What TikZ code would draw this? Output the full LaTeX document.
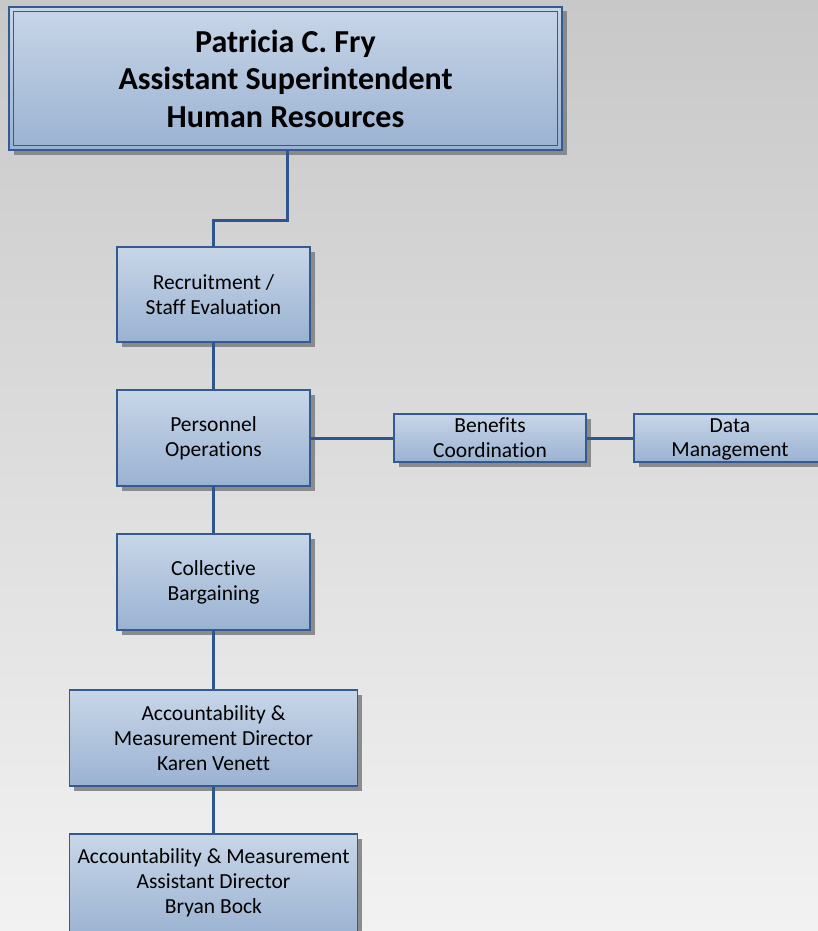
\documentclass[tikz,border=0pt]{standalone}
\usepackage{fontspec}
\setmainfont{Carlito}[Ligatures=NoCommon]
\usetikzlibrary{shadows}
\definecolor{bgtop}{RGB}{200,200,200}
\definecolor{bgbot}{RGB}{242,242,242}
\definecolor{boxtop}{RGB}{200,214,232}
\definecolor{boxbot}{RGB}{154,178,210}
\definecolor{boxline}{RGB}{52,90,146}
\definecolor{conn}{RGB}{46,86,142}
\definecolor{shad}{RGB}{130,130,130}
\tikzset{
  orgbox/.style={rectangle, draw=boxline, line width=1.2pt, top color=boxtop, bottom color=boxbot,
    align=center, inner sep=0pt, text=black, font=\fontsize{21.5}{24.8}\selectfont,
    drop shadow={shadow xshift=4.5pt, shadow yshift=-4.5pt, fill=shad, opacity=0.9}},
  titlebox/.style={orgbox, font=\bfseries\fontsize{32}{37.5}\selectfont},
  link/.style={draw=conn, line width=3pt}
}
\begin{document}
\begin{tikzpicture}[x=1pt,y=-1pt]
\useasboundingbox (0,0) rectangle (818,931);
\clip (0,0) rectangle (818,931);
\shade[top color=bgtop, bottom color=bgbot] (0,0) rectangle (818,931);

\node[titlebox, minimum width=553pt, minimum height=143pt] (top) at (285.5,78.5)
  {Patricia C. Fry\\Assistant Superintendent\\Human Resources};
\draw[draw=boxline, line width=1.2pt] ([shift={(5,5)}]top.north west) rectangle ([shift={(-5,-5)}]top.south east);

\node[orgbox, minimum width=193pt, minimum height=95pt] (rec) at (213.5,294.5) {Recruitment /\\Staff Evaluation};
\node[orgbox, minimum width=193pt, minimum height=96pt] (per) at (213.5,438) {Personnel\\Operations};
\node[orgbox, minimum width=193pt, minimum height=96pt] (col) at (213.5,582) {Collective\\Bargaining};
\node[orgbox, minimum width=288pt, minimum height=96pt] (acc) at (213.5,738) {Accountability \&\\Measurement Director\\Karen Venett};
\node[orgbox, minimum width=288pt, minimum height=104pt] (ast) at (213.5,886) {};
\node[align=center, font=\fontsize{21.5}{24.8}\selectfont] (astt) at (213.5,883) {Accountability \& Measurement\\Assistant Director\\Bryan Bock};
\node[orgbox, minimum width=192pt, minimum height=48pt] (ben) at (490,438) {Benefits\\Coordination};
\node[orgbox, minimum width=192pt, minimum height=48pt] (dat) at (730,438) {};
\node[align=center, font=\fontsize{21.5}{24.8}\selectfont] (datt) at (730,439.5) {Data\\Management};

\draw[link] (top.south -| 287,0) -- (287,220) -| (rec.north);
\draw[link] (rec.south) -- (per.north);
\draw[link] (per.south) -- (col.north);
\draw[link] (col.south) -- (acc.north);
\draw[link] (acc.south) -- (ast.north);
\draw[link] (per.east) -- (ben.west);
\draw[link] (ben.east) -- (dat.west);
\end{tikzpicture}
\end{document}
